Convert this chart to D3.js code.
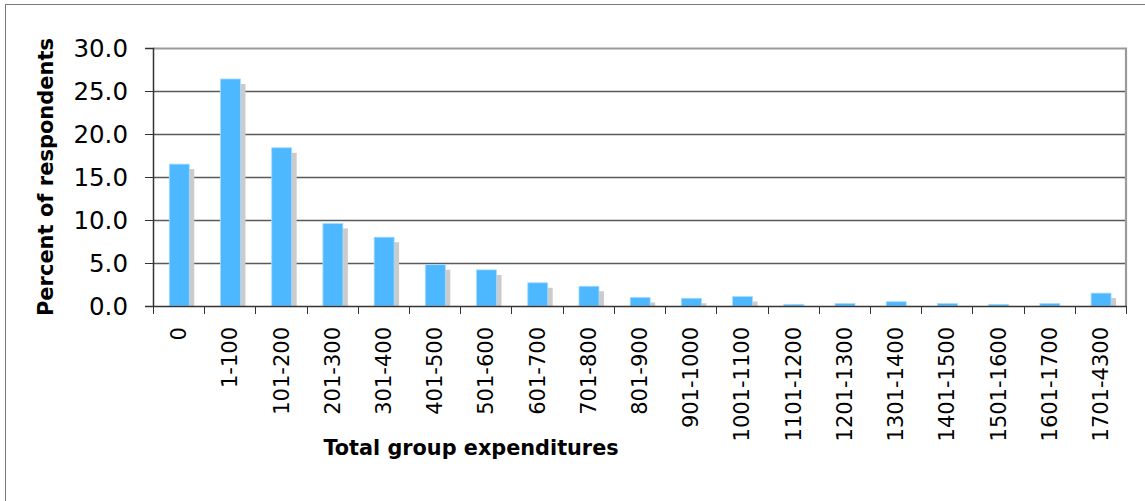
<!DOCTYPE html>
<html>
<head>
<meta charset="utf-8">
<script src="https://cdn.jsdelivr.net/npm/d3@7"></script>
<style>
  body { margin:0; background:#fff; }
  svg text { font-family:"DejaVu Sans", Verdana, sans-serif; fill:#000; }
</style>
</head>
<body>
<div id="chart"></div>
<script>
var width=1145, height=501;
var margin={left:153, top:48, right:19, bottom:195};

var categories=["0","1-100","101-200","201-300","301-400","401-500","501-600","601-700","701-800",
                "801-900","901-1000","1001-1100","1101-1200","1201-1300","1301-1400","1401-1500",
                "1501-1600","1601-1700","1701-4300"];
var percents=[16.5,26.4,18.4,9.6,8.0,4.8,4.2,2.7,2.3,1.0,0.9,1.1,0.2,0.3,0.5,0.3,0.2,0.3,1.5];
var yTicks=[0,5,10,15,20,25,30];

var svg=d3.select("#chart").append("svg")
          .attr("width",width).attr("height",height);

// outer frame
svg.append("rect")
   .attr("x",5.5).attr("y",4.5)
   .attr("width",width+20).attr("height",height+20)
   .attr("fill","none").attr("stroke","#7a7a7a");

var x=d3.scaleBand().domain(categories).range([margin.left,width-margin.right]).padding(0);
var y=d3.scaleLinear().domain([0,30]).range([height-margin.bottom,margin.top]);

var bw=x.bandwidth();
var barOff=bw*0.318, barW=bw*0.39, sh=5;

// gridlines
svg.append("g").selectAll("line")
   .data(yTicks.filter(d=>d>0 && d<30))
   .enter().append("line")
   .attr("x1",margin.left).attr("x2",width-margin.right)
   .attr("y1",d=>Math.round(y(d))+0.5).attr("y2",d=>Math.round(y(d))+0.5)
   .attr("stroke","#5a5a5a").attr("stroke-width",1.3);

// plot frame top/right
svg.append("path")
   .attr("d","M"+margin.left+","+(margin.top+0.5)+"H"+(width-margin.right)+"V"+(height-margin.bottom))
   .attr("fill","none").attr("stroke","#9a9a9a").attr("stroke-width",2.2);

// shadows
svg.append("g").selectAll("rect")
   .data(percents)
   .enter().append("rect")
   .attr("x",(d,i)=>x(categories[i])+barOff+sh)
   .attr("y",d=>y(d)+sh)
   .attr("width",barW)
   .attr("height",d=>Math.max(0,y(0)-y(d)-sh))
   .attr("fill","#cbcbcb");

// bars
svg.append("g").selectAll("rect")
   .data(percents)
   .enter().append("rect")
   .attr("x",(d,i)=>x(categories[i])+barOff)
   .attr("y",d=>y(d))
   .attr("width",barW)
   .attr("height",d=>y(0)-y(d))
   .attr("fill","#4db8ff")
   .attr("stroke","#a8dcff").attr("stroke-width",0.8);

// y axis
var yAxis=d3.axisLeft(y).tickValues(yTicks).tickFormat(d3.format(".1f")).tickSize(8).tickPadding(17);
var gy=svg.append("g").attr("transform","translate("+margin.left+",0)").call(yAxis);
gy.select(".domain").attr("stroke","#333").attr("stroke-width",1.5);
gy.selectAll(".tick line").attr("stroke","#333");
gy.selectAll("text").style("font-size","24.5px").attr("dy","0.36em");

// x axis
var xAxis=d3.axisBottom(x).tickSize(0).tickPadding(0);
var gx=svg.append("g").attr("transform","translate(0,"+y(0)+")").call(xAxis);
gx.select(".domain").attr("stroke","#333").attr("stroke-width",1.5);
gx.selectAll(".tick text")
  .style("font-size","21px")
  .attr("text-anchor","end")
  .attr("transform","translate(0,21) rotate(-90)")
  .attr("x",0).attr("y",0).attr("dy","0.36em");

// boundary ticks
svg.append("g").selectAll("line")
   .data(categories.concat(["end"]))
   .enter().append("line")
   .attr("x1",(d,i)=>Math.round(i<categories.length?x(d):x.range()[1])+0.5)
   .attr("x2",(d,i)=>Math.round(i<categories.length?x(d):x.range()[1])+0.5)
   .attr("y1",y(0)).attr("y2",y(0)+8)
   .attr("stroke","#333");

// axis titles
svg.append("text")
   .attr("transform","translate(53,"+((y(0)+y(30))/2)+") rotate(-90)")
   .attr("text-anchor","middle")
   .style("font-size","21px").style("font-weight","bold")
   .text("Percent of respondents");

svg.append("text")
   .attr("x",471).attr("y",455)
   .attr("text-anchor","middle")
   .style("font-size","20.8px").style("font-weight","bold")
   .text("Total group expenditures");
</script>
</body>
</html>
